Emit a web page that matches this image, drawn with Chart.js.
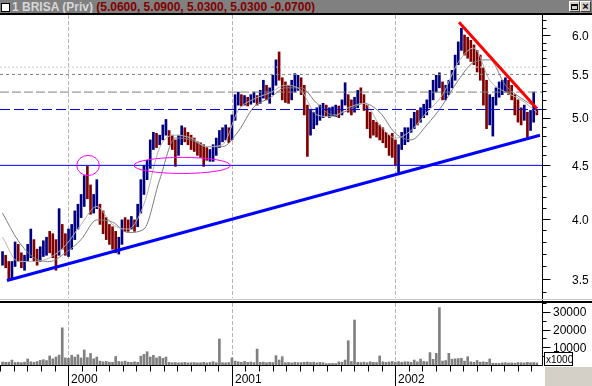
<!DOCTYPE html>
<html><head><meta charset="utf-8">
<script src="https://cdn.jsdelivr.net/npm/chart.js@4.4.1/dist/chart.umd.min.js"></script>
<style>
html,body{margin:0;padding:0;background:#fff;}
#wrap{position:relative;width:592px;height:386px;overflow:hidden;background:#fff;font-family:"Liberation Sans",Arial,sans-serif;}
canvas{position:absolute;left:0;}
#c1{top:0;}
#c2{top:300px;}
#titlebar{position:absolute;left:0;top:0;width:592px;height:13px;background:#808080;z-index:3;}
#titleline{position:absolute;left:0;top:13px;width:592px;height:2px;background:#000;z-index:3;}
#sep1{position:absolute;left:0;top:299px;width:592px;height:1px;background:#c8c8c8;z-index:3;}
#sep2{position:absolute;left:0;top:301px;width:592px;height:2px;background:#000;z-index:3;}
#ttext{position:absolute;left:12px;top:0;height:13px;line-height:13px;font:bold 12px "Liberation Sans",Arial,sans-serif;white-space:nowrap;}
#chk{position:absolute;left:1px;top:3px;width:7px;height:7px;background:#fff;border:1px solid #000;}
.btn{position:absolute;top:1px;width:9px;height:9px;background:#d4d0c8;border-top:1px solid #fff;border-left:1px solid #fff;border-right:1px solid #404040;border-bottom:1px solid #404040;}
#b1{left:569px;}#b2{left:580px;}
#b1 i{position:absolute;left:1px;top:2px;width:5px;height:3px;border:1px solid #000;border-top-width:2px;}
#b2 i{position:absolute;left:0;top:-2px;width:9px;text-align:center;font:bold 11px "Liberation Sans",Arial;font-style:normal;line-height:12px;color:#000;}
</style></head>
<body>
<div id="wrap">
  <canvas id="c1" width="592" height="299"></canvas>
  <canvas id="c2" width="592" height="86"></canvas>
  <div id="titlebar">
    <div id="chk"></div>
    <div id="ttext"><span style="color:#d8d8d8">1 BRISA (Priv)</span> <span style="color:#800000">(5.0600, 5.0900, 5.0300, 5.0300 -0.0700)</span></div>
    <div class="btn" id="b1"><i></i></div>
    <div class="btn" id="b2"><i>×</i></div>
  </div>
  <div id="titleline"></div>
  <div id="sep1"></div>
  <div id="sep2"></div>
</div>
<script>
// ---- time axis: months relative to 1 Jan 2000 ----
const xMin = -5.015, xMax = 34.78;
const barStart = -4.83;          // first weekly bar (Aug 1999)
const barStep = 12 / 52;         // one week
const yearStarts = [0, 12, 24];
const yearLabels = ['2000', '2001', '2002'];

// ---- weekly price bars ----
const high = [
3.72,3.69,3.64,3.64,3.80,3.78,3.71,3.69,3.78,3.91,
3.82,3.74,3.76,3.81,3.84,3.89,3.87,3.82,4.09,3.95,
3.87,3.91,3.95,4.07,4.13,4.22,4.40,4.49,4.31,4.22,
4.36,4.13,4.07,4.01,3.95,3.93,3.89,3.84,3.99,4.01,
3.99,4.02,3.99,4.13,4.36,4.50,4.55,4.76,4.84,4.83,
4.81,4.92,4.98,4.86,4.81,4.76,4.81,4.91,4.89,4.84,
4.81,4.78,4.74,4.73,4.71,4.68,4.66,4.71,4.78,4.86,
4.89,4.92,4.89,5.03,5.26,5.29,5.26,5.25,5.23,5.26,
5.29,5.25,5.31,5.43,5.37,5.34,5.49,5.68,5.78,5.46,
5.41,5.37,5.43,5.51,5.49,5.46,5.37,5.14,5.08,5.06,
5.11,5.14,5.16,5.14,5.11,5.12,5.14,5.13,5.20,5.40,
5.26,5.20,5.23,5.31,5.34,5.26,5.14,5.06,4.97,4.95,
4.92,4.89,4.84,4.81,4.83,4.76,4.71,4.84,4.89,4.89,
4.99,5.06,5.08,5.11,5.15,5.20,5.31,5.43,5.49,5.52,
5.41,5.37,5.43,5.55,5.74,5.91,6.09,6.00,5.97,5.93,
5.87,5.80,5.74,5.58,5.43,5.26,5.23,5.34,5.41,5.43,
5.46,5.43,5.37,5.26,5.20,5.11,5.14,5.06,5.08,5.29,
5.09];
const low = [
3.61,3.59,3.49,3.51,3.60,3.64,3.59,3.57,3.64,3.67,
3.64,3.61,3.64,3.68,3.69,3.71,3.67,3.57,3.69,3.74,
3.69,3.68,3.74,3.82,3.91,4.01,4.11,4.18,4.04,4.05,
4.09,3.95,3.87,3.82,3.78,3.74,3.71,3.70,3.78,3.89,
3.89,3.91,3.89,3.93,4.05,4.22,4.36,4.47,4.66,4.68,
4.71,4.76,4.81,4.71,4.66,4.49,4.60,4.71,4.74,4.71,
4.66,4.64,4.60,4.58,4.49,4.55,4.54,4.54,4.60,4.68,
4.74,4.76,4.73,4.76,4.97,5.14,5.13,5.14,5.13,5.15,
5.17,5.14,5.16,5.22,5.20,5.16,5.26,5.37,5.43,5.20,
5.17,5.16,5.20,5.29,5.31,5.26,5.03,4.59,4.81,4.88,
4.92,4.97,5.00,5.02,5.00,5.02,5.01,5.00,5.03,5.14,
5.06,5.03,5.06,5.11,5.16,5.08,4.88,4.78,4.81,4.79,
4.76,4.73,4.68,4.60,4.58,4.50,4.43,4.66,4.71,4.74,
4.84,4.88,4.92,4.95,5.00,5.03,5.11,5.20,5.29,5.34,
5.20,5.20,5.26,5.34,5.43,5.62,5.80,5.74,5.70,5.66,
5.62,5.53,5.43,5.14,4.88,4.92,4.80,5.14,5.23,5.26,
5.29,5.26,5.20,5.03,4.95,4.92,4.97,4.79,4.86,4.95,
5.03];
const close = [
3.65,3.62,3.52,3.60,3.75,3.68,3.62,3.66,3.75,3.85,
3.68,3.65,3.72,3.75,3.80,3.74,3.70,3.62,4.00,3.80,
3.78,3.85,3.90,4.00,4.08,4.18,4.35,4.30,4.12,4.15,
4.25,4.02,3.95,3.88,3.82,3.80,3.75,3.80,3.95,3.94,
3.92,3.96,3.93,4.10,4.30,4.45,4.50,4.70,4.75,4.72,
4.76,4.85,4.90,4.75,4.72,4.60,4.70,4.85,4.80,4.75,
4.72,4.68,4.65,4.62,4.60,4.58,4.60,4.65,4.72,4.80,
4.82,4.85,4.80,5.00,5.20,5.22,5.18,5.20,5.17,5.22,
5.25,5.20,5.27,5.35,5.25,5.30,5.40,5.55,5.50,5.30,
5.28,5.25,5.35,5.40,5.42,5.35,5.10,4.80,4.95,4.95,
5.00,5.05,5.08,5.05,5.05,5.07,5.10,5.05,5.12,5.30,
5.15,5.08,5.15,5.25,5.22,5.15,4.95,4.90,4.88,4.85,
4.82,4.80,4.75,4.70,4.68,4.62,4.65,4.80,4.82,4.85,
4.95,5.02,5.00,5.05,5.10,5.15,5.25,5.35,5.40,5.45,
5.25,5.30,5.35,5.45,5.65,5.80,5.95,5.85,5.80,5.75,
5.70,5.60,5.55,5.25,5.00,5.05,5.10,5.25,5.30,5.35,
5.38,5.35,5.28,5.10,5.05,5.00,5.05,4.85,5.00,5.10,
5.03];
const volume = [
1700,1500,1600,2800,1400,1500,1300,1600,3400,1800,
1500,2000,2600,3000,2500,5100,3500,4500,5600,21000,
4000,3800,5500,4500,5800,4000,8500,4200,6500,3500,
4500,2200,1800,2000,1600,1500,4800,2000,1800,2200,
1600,1500,1800,1500,5000,6000,7500,4500,5500,4000,
4800,3800,4500,1500,1300,1400,1200,1300,1500,1200,
1300,1400,1200,1300,1500,1200,1400,1900,1300,14700,
1300,1200,1400,4000,2200,1800,1500,2000,1500,1700,
1400,9000,1500,1600,1300,1500,1400,5300,2800,4700,
1300,1400,1200,1500,1300,1400,1500,1700,1400,1600,
1200,1500,1300,800,800,900,800,1800,1500,2800,
13700,2000,25400,1500,1400,1600,1300,1800,1500,1400,
5100,1800,1500,1700,2000,1600,1900,1500,1800,1800,
1500,2800,1800,3400,2000,1800,7000,3200,6600,32400,
2200,2500,6600,3300,3500,3600,3800,2200,4700,1800,
1500,2500,1600,1800,1500,3400,1000,1000,900,1200,
1300,1100,1200,1000,1400,1300,1200,1500,1300,1400,
1200];

// ---- moving averages, read every 5th bar ----
const maEvery = 5;
const maFast = [3.84,3.64,3.64,3.67,3.77,3.95,4.11,3.95,3.91,4.13,4.68,4.81,4.78,4.69,4.71,5.08,5.21,5.28,5.37,5.31,5.03,5.01,5.11,5.16,4.92,4.78,4.86,5.06,5.26,5.65,5.83,5.43,5.29,5.20,5.06];
const maSlow = [4.05,3.81,3.67,3.64,3.71,3.82,3.99,3.97,3.88,3.91,4.36,4.78,4.76,4.69,4.69,4.85,5.12,5.22,5.34,5.34,5.16,5.03,5.08,5.16,5.06,4.83,4.76,4.92,5.14,5.43,5.65,5.68,5.37,5.22,5.11];

// ---- drawn studies ----
const levelValues = [5.59, 5.5, 5.29, 5.09, 4.5];
const supportX = [-4.5, 34.63], supportY = [3.49, 4.81];
const resistX = [28.69, 34.41], resistY = [6.17, 5.10];
const ellipseX = [[0.62, 2.28], [4.82, 11.91]];
const ellipseY = [[4.40, 4.60], [4.42, 4.58]];

// ---- axis ticks ----
const priceTicks = [3.5, 4.0, 4.5, 5.0, 5.5, 6.0];
const volTicks = [10000, 20000, 30000];
const priceMin = 3.358, priceMax = 6.271;
const volMax = 35000;

// ---- derived structures ----
const barX = high.map((_, i) => barStart + i * barStep);
const priceBars = high.map((h, i) => ({x: barX[i], y: [low[i], h]}));
const barColors = close.map((c, i) => c >= (i ? close[i - 1] : c) ? '#000080' : '#800000');
const volBars = volume.map((v, i) => ({x: barX[i], y: v}));
const fastPts = maFast.map((v, j) => ({x: barX[j * maEvery], y: v}));
const slowPts = maSlow.map((v, j) => ({x: barX[j * maEvery], y: v}));
const levelStyles = [
  {c: '#c8c8c8', d: [2, 2]}, {c: '#808080', d: [3, 3]}, {c: '#808080', d: [9, 3]},
  {c: '#0000e0', d: [10, 4]}, {c: '#0000ff', d: []}
];

const FONT = '"Liberation Sans", Arial, sans-serif';

function yearGrid(chart) {
  const {ctx, chartArea: a, scales: {x}} = chart;
  ctx.save();
  ctx.strokeStyle = '#b4b4b4'; ctx.lineWidth = 1; ctx.setLineDash([4, 2]);
  yearStarts.forEach(m => {
    const px = Math.round(x.getPixelForValue(m)) + 0.5;
    ctx.beginPath(); ctx.moveTo(px, a.top); ctx.lineTo(px, a.bottom); ctx.stroke();
  });
  ctx.restore();
}

const pricePlugin = {
  id: 'priceDeco',
  beforeDatasetsDraw(chart) { yearGrid(chart); },
  afterDatasetsDraw(chart) {
    const {ctx, scales: {x, y}} = chart;
    ctx.save();
    ctx.strokeStyle = '#ff00ff'; ctx.lineWidth = 1;
    ellipseX.forEach((ex, k) => {
      const x0 = x.getPixelForValue(ex[0]), x1 = x.getPixelForValue(ex[1]);
      const y0 = y.getPixelForValue(ellipseY[k][1]), y1 = y.getPixelForValue(ellipseY[k][0]);
      ctx.beginPath();
      ctx.ellipse((x0 + x1) / 2, (y0 + y1) / 2, (x1 - x0) / 2, (y1 - y0) / 2, 0, 0, Math.PI * 2);
      ctx.stroke();
    });
    ctx.restore();
  },
  afterDraw(chart) {
    const {ctx, chartArea: a, scales: {y}} = chart;
    const ax = Math.round(a.right) + 0.5;
    ctx.save();
    ctx.fillStyle = '#fff';
    ctx.fillRect(a.right + 1, a.top, chart.width - a.right, chart.height - a.top);
    ctx.strokeStyle = '#000'; ctx.lineWidth = 1;
    ctx.beginPath(); ctx.moveTo(ax, a.top); ctx.lineTo(ax, chart.height); ctx.stroke();
    for (let k = 34; k <= 62; k++) {
      const v = k / 10;
      const py = Math.round(y.getPixelForValue(v)) + 0.5;
      if (py < a.top || py > chart.height) continue;
      const len = (k % 5 === 0) ? 8 : 4;
      ctx.beginPath(); ctx.moveTo(ax, py); ctx.lineTo(ax + len, py); ctx.stroke();
    }
    ctx.fillStyle = '#000'; ctx.font = '12px ' + FONT; ctx.textAlign = 'left'; ctx.textBaseline = 'middle';
    priceTicks.forEach(v => {
      ctx.fillText(v.toFixed(1), 572, y.getPixelForValue(v) + 1.5);
    });
    ctx.restore();
  }
};

const volPlugin = {
  id: 'volDeco',
  beforeDatasetsDraw(chart) { yearGrid(chart); },
  afterDraw(chart) {
    const {ctx, chartArea: a, scales: {x, y}} = chart;
    const ax = Math.round(a.right) + 0.5;
    const by = Math.round(a.bottom) + 0.5;
    ctx.save();
    ctx.strokeStyle = '#000'; ctx.lineWidth = 1;
    ctx.beginPath(); ctx.moveTo(ax, 0); ctx.lineTo(ax, by); ctx.stroke();
    ctx.beginPath(); ctx.moveTo(0, by); ctx.lineTo(ax, by); ctx.stroke();
    for (let v = 5000; v <= volMax; v += 5000) {
      const py = Math.round(y.getPixelForValue(v)) + 0.5;
      const len = (v % 10000 === 0) ? 8 : 4;
      ctx.beginPath(); ctx.moveTo(ax, py); ctx.lineTo(ax + len, py); ctx.stroke();
    }
    for (let m = Math.ceil(xMin); m <= Math.floor(xMax); m++) {
      const px = Math.round(x.getPixelForValue(m)) + 0.5;
      const isYear = yearStarts.includes(m);
      ctx.beginPath(); ctx.moveTo(px, by); ctx.lineTo(px, isYear ? chart.height : by + 6); ctx.stroke();
    }
    ctx.fillStyle = '#000'; ctx.font = '12px ' + FONT; ctx.textBaseline = 'alphabetic'; ctx.textAlign = 'left';
    yearStarts.forEach((m, k) => {
      ctx.fillText(yearLabels[k], Math.round(x.getPixelForValue(m)) + 3, chart.height - 3.5);
    });
    ctx.textBaseline = 'middle';
    volTicks.forEach(v => ctx.fillText(String(v), 553, y.getPixelForValue(v) + 1));
    ctx.fillStyle = '#fff'; ctx.fillRect(544.5, 52.5, 28, 13);
    ctx.strokeRect(544.5, 52.5, 28, 13);
    ctx.fillStyle = '#000'; ctx.font = '10px ' + FONT; ctx.textBaseline = 'alphabetic';
    ctx.fillText('x1000', 546, 63);
    ctx.fillStyle = '#d4d0c8'; ctx.fillRect(545, 67, chart.width - 545, chart.height - 67);
    ctx.restore();
  }
};

Chart.defaults.font.family = FONT;

const levelSets = levelValues.map((v, k) => ({
  type: 'line', data: [{x: xMin, y: v}, {x: xMax, y: v}],
  borderColor: levelStyles[k].c, borderDash: levelStyles[k].d, borderWidth: 1,
  pointRadius: 0, order: 3
}));

new Chart(document.getElementById('c1'), {
  data: {
    datasets: [
      {type: 'line', data: resistX.map((v, i) => ({x: v, y: resistY[i]})), borderColor: '#ff0000', borderWidth: 3, pointRadius: 0, order: 1},
      {type: 'line', data: supportX.map((v, i) => ({x: v, y: supportY[i]})), borderColor: '#0000ff', borderWidth: 3, pointRadius: 0, order: 1},
      ...levelSets,
      {type: 'line', data: fastPts, borderColor: '#b0b0b0', borderWidth: 1, pointRadius: 0, cubicInterpolationMode: 'monotone', order: 5},
      {type: 'line', data: slowPts, borderColor: '#7c7c7c', borderWidth: 1, pointRadius: 0, cubicInterpolationMode: 'monotone', order: 5},
      {type: 'bar', data: priceBars, backgroundColor: barColors, barThickness: 2, order: 10}
    ]
  },
  options: {
    responsive: false, animation: false, devicePixelRatio: 1,
    layout: {padding: {top: 15, bottom: 1, left: 0, right: 50}},
    plugins: {legend: {display: false}, tooltip: {enabled: false}},
    scales: {
      x: {type: 'linear', min: xMin, max: xMax, bounds: 'data', offset: false, display: false},
      y: {type: 'logarithmic', min: priceMin, max: priceMax, bounds: 'data', display: false}
    }
  },
  plugins: [pricePlugin]
});

new Chart(document.getElementById('c2'), {
  data: {
    datasets: [
      {type: 'bar', data: volBars, backgroundColor: '#808080', barThickness: 2}
    ]
  },
  options: {
    responsive: false, animation: false, devicePixelRatio: 1,
    layout: {padding: {top: 3, bottom: 21, left: 0, right: 50}},
    plugins: {legend: {display: false}, tooltip: {enabled: false}},
    scales: {
      x: {type: 'linear', min: xMin, max: xMax, bounds: 'data', offset: false, display: false},
      y: {type: 'linear', min: 0, max: volMax, bounds: 'data', display: false}
    }
  },
  plugins: [volPlugin]
});
</script>
</body></html>
